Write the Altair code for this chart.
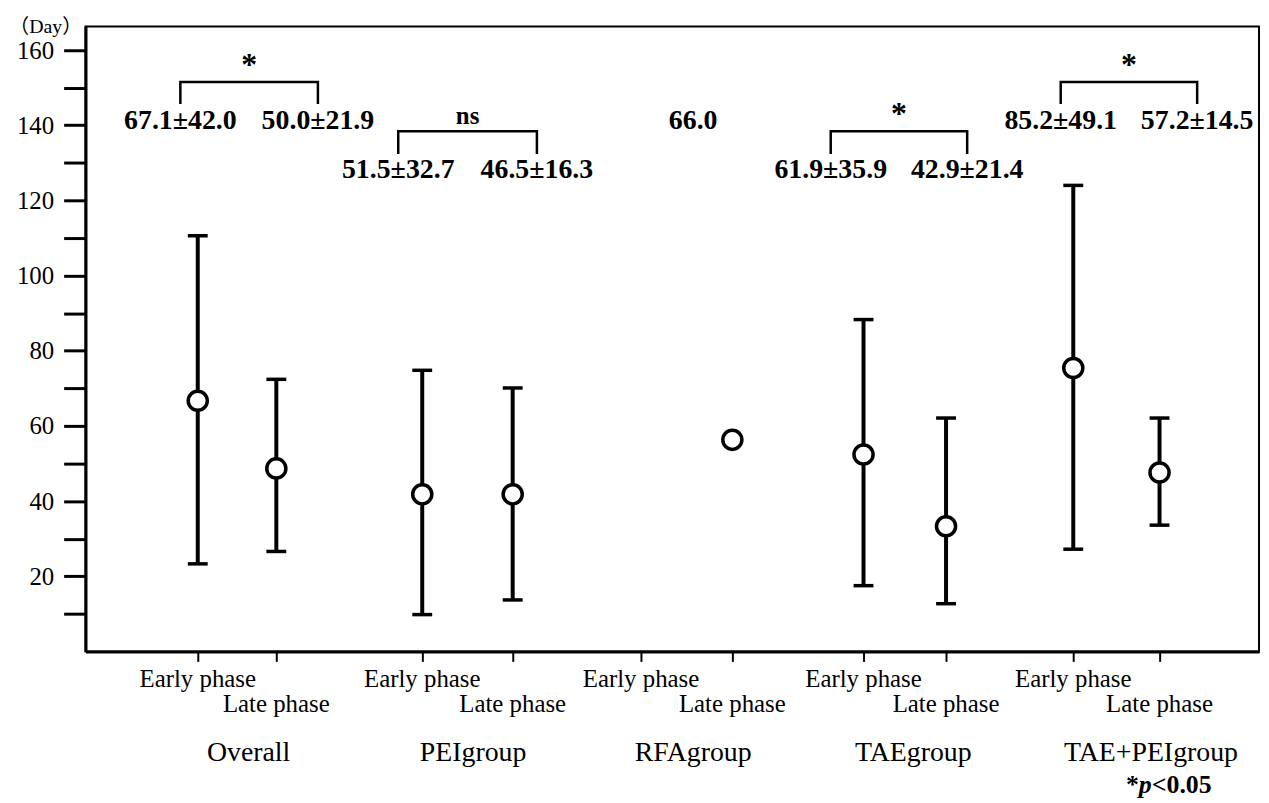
import altair as alt
import pandas as pd

# ---------------- data ----------------
groups = ["Overall", "PEIgroup", "RFAgroup", "TAEgroup", "TAE+PEIgroup"]
phases = ["Early phase", "Late phase"]
# [early, late] per group (days)
means = [[66.7, 48.7], [41.8, 41.8], [None, 56.3], [52.4, 33.3], [75.4, 47.6]]
uppers = [[110.6, 72.4], [74.8, 70.1], [None, None], [88.3, 62.1], [124.0, 62.1]]
lowers = [[23.3, 26.6], [9.8, 13.7], [None, None], [17.5, 12.7], [27.2, 33.6]]
early_stats = ["67.1±42.0", "51.5±32.7", "66.0", "61.9±35.9", "85.2±49.1"]
late_stats = ["50.0±21.9", "46.5±16.3", "", "42.9±21.4", "57.2±14.5"]
significance = ["*", "ns", "", "*", "*"]
y_ticks = list(range(10, 161, 10))

# ---------------- layout ----------------
FONT = "Liberation Serif"
W, H = 1181, 629
X_DOMAIN = [-0.721, 4.611]
Y_DOMAIN = [0, 166.3]
# horizontal slot of each [early, late] column, in group units
slot = [[-0.211, 0.146], [0.809, 1.220], [1.803, 2.218], [2.814, 3.189], [3.767, 4.159]]
PHASE_LABEL_Y = {"Early phase": -9.5, "Late phase": -16.1}
ann_row = [1, 2, 1, 2, 1]
leg_off = [(-0.29, 0.335), (-0.30, 0.33), None, (-0.335, 0.285), (-0.29, 0.33)]
ROW = {
    1: dict(text=139.0, leg=146.0, bar=151.5, mark=153.3),
    2: dict(text=125.9, leg=132.7, bar=138.4, mark=140.3),
}
rfa_text_x = 2.04
group_label_x = [0.02, 1.04, 2.04, 3.04, 4.12]
group_label_y = -29.2

pts = []
for gi, g in enumerate(groups):
    for pi, ph in enumerate(phases):
        if means[gi][pi] is None:
            continue
        pts.append(dict(group=g, phase=ph, x=slot[gi][pi], mean=means[gi][pi],
                        lo=lowers[gi][pi], hi=uppers[gi][pi]))
pts = pd.DataFrame(pts)
bars = pts.dropna(subset=["lo"])

phase_lab = pd.DataFrame([dict(x=slot[gi][pi], y=PHASE_LABEL_Y[p], t=p)
                          for gi in range(len(groups)) for pi, p in enumerate(phases)])

br, stat_txt, sig_star, sig_ns = [], [], [], []
for gi in range(len(groups)):
    r = ROW[ann_row[gi]]
    if leg_off[gi] is None:
        stat_txt.append(dict(x=rfa_text_x, y=r["text"], t=early_stats[gi]))
        continue
    xl, xr = gi + leg_off[gi][0], gi + leg_off[gi][1]
    for k, (xx, yy) in enumerate([(xl, r["leg"]), (xl, r["bar"]), (xr, r["bar"]), (xr, r["leg"])]):
        br.append(dict(b=gi, o=k, x=xx, y=yy))
    stat_txt.append(dict(x=xl, y=r["text"], t=early_stats[gi]))
    stat_txt.append(dict(x=xr, y=r["text"], t=late_stats[gi]))
    d = dict(x=(xl + xr) / 2, y=r["mark"], t=significance[gi])
    (sig_star if significance[gi] == "*" else sig_ns).append(d)
br = pd.DataFrame(br)
stat_txt = pd.DataFrame(stat_txt)
sig_star = pd.DataFrame(sig_star)
sig_ns = pd.DataFrame(sig_ns)
glabels = pd.DataFrame(dict(x=group_label_x, y=[group_label_y] * 5, t=groups))

xs = alt.Scale(domain=X_DOMAIN, nice=False, zero=False)
ys = alt.Scale(domain=Y_DOMAIN, nice=False, zero=False)
tick_vals = [v for pair in slot for v in pair]

x_axis = alt.Axis(values=tick_vals, title=None, grid=False, labels=False,
                  tickSize=10, tickWidth=2, domainWidth=3,
                  tickColor="black", domainColor="black")
y_axis = alt.Axis(values=y_ticks, title=None, grid=False,
                  labelExpr="datum.value % 20 === 0 ? datum.label : ''",
                  tickSize=22, tickWidth=3, domainWidth=3, labelFontSize=25, labelPadding=10,
                  labelFont=FONT, labelColor="black", tickColor="black", domainColor="black")


def X():
    return alt.X("x:Q", scale=xs, axis=x_axis)


def Y(field):
    return alt.Y(field, scale=ys, axis=y_axis)


def txt(df, size, weight="normal", style="normal", align="center", dx=0, font=FONT):
    return alt.Chart(df).mark_text(font=font, fontSize=size, fontWeight=weight, fontStyle=style,
                                   baseline="alphabetic", align=align, dx=dx, color="black",
                                   clip=False).encode(x=X(), y=Y("y:Q"), text="t:N")


rules = alt.Chart(bars).mark_rule(color="black", strokeWidth=4).encode(
    x=X(), y=Y("lo:Q"), y2="hi:Q")
cap_hi = alt.Chart(bars).mark_tick(orient="horizontal", color="black", size=20, thickness=3.5,
                                   opacity=1).encode(x=X(), y=Y("hi:Q"))
cap_lo = alt.Chart(bars).mark_tick(orient="horizontal", color="black", size=20, thickness=3.5,
                                   opacity=1).encode(x=X(), y=Y("lo:Q"))
circles = alt.Chart(pts).mark_point(shape="circle", filled=True, fill="white", stroke="black",
                                    strokeWidth=3.5, size=370, opacity=1).encode(
    x=X(), y=Y("mean:Q"))
brackets = alt.Chart(br).mark_line(color="black", strokeWidth=2.5, strokeJoin="miter",
                                   strokeCap="square").encode(
    x=X(), y=Y("y:Q"), detail="b:N", order="o:Q")
stats = txt(stat_txt, 28, "bold")
stars = txt(sig_star, 32, "bold")
ns = txt(sig_ns, 25, "bold")
glab = txt(glabels, 28)
plab = txt(phase_lab, 25)

# p-value note and unit label
note_x, note_y = 4.065, -37.6
note_star = txt(pd.DataFrame(dict(x=[note_x], y=[note_y], t=["*"])), 26, "bold", align="right")
note_p = txt(pd.DataFrame(dict(x=[note_x], y=[note_y], t=["p"])), 26, "bold", "italic", align="left")
note_rest = txt(pd.DataFrame(dict(x=[note_x], y=[note_y], t=["<0.05"])), 26, "bold", align="left", dx=13)
unit = txt(pd.DataFrame(dict(x=[-0.9016], y=[164.6], t=["（Day）"])), 20,
           font=FONT + ", Noto Sans CJK JP")

chart = alt.layer(rules, cap_hi, cap_lo, circles, brackets, stats, stars, ns, glab, plab,
                  note_star, note_p, note_rest, unit).properties(
    width=W, height=H,
    background="white",
    autosize=alt.AutoSizeParams(type="none"),
    padding={"left": 78, "top": 16, "right": 2, "bottom": 150},
).configure_view(stroke="black", strokeWidth=2).configure_axis(
    labelFont=FONT, labelFontSize=25, labelColor="black")

chart.save("out.html", embed_options={"renderer": "svg", "actions": False})
